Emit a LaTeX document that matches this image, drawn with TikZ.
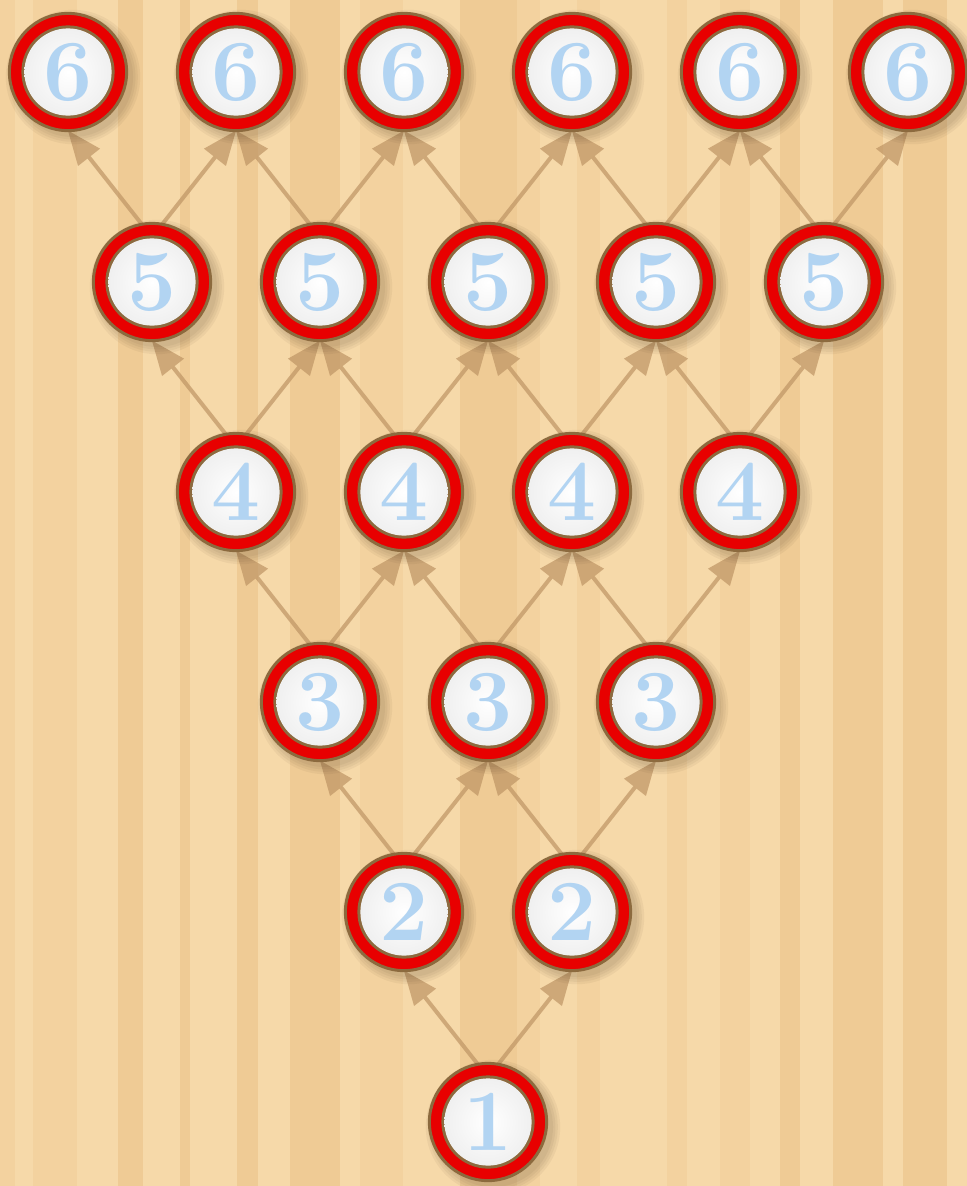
\documentclass[tikz,border=0pt]{standalone}
\usepackage{tikz}
\usetikzlibrary{arrows.meta}

\definecolor{woodbase}{RGB}{246,217,169}
\definecolor{woodmid}{RGB}{243,210,159}
\definecolor{wooddark}{RGB}{239,203,149}
\definecolor{ringred}{RGB}{232,0,0}
\definecolor{rimbrown}{RGB}{140,106,62}
\definecolor{digitblue}{RGB}{178,212,242}
\definecolor{arrowtan}{RGB}{190,148,100}

\pgfdeclarelayer{wood}
\pgfdeclarelayer{links}
\pgfsetlayers{wood,links,main}

\tikzset{
  ball/.style={circle, minimum size=2.93cm, inner sep=0pt, outer sep=0pt,
    fill=ringred, draw=rimbrown, line width=0.075cm,
    path picture={
      \fill[rimbrown] (path picture bounding box.center) circle (1.165cm);
      \shade[inner color=white, outer color=black!6] (path picture bounding box.center) circle (1.09cm);
    },
    text=digitblue, font=\fontsize{62}{62}\selectfont\bfseries},
  uparrow/.style={draw=arrowtan, line width=0.1cm, opacity=0.7,
    -{Triangle[length=0.85cm, width=0.7cm, line width=0pt]}},
  halo/.style={fill=black!70!brown, opacity=0.05}
}

\begin{document}
\begin{tikzpicture}[x=0.025cm, y=-0.025cm]
  \useasboundingbox (0,0) rectangle (967,1186);
  \begin{pgfonlayer}{wood}
    \fill[woodbase] (0,0) rectangle (967,1186);
    \foreach \a/\b/\s in {0/15/woodmid, 33/77/woodmid, 118/143/wooddark, 180/190/wooddark,
        237/258/wooddark, 290/340/wooddark, 360/403/woodmid, 460/517/wooddark,
        517/540/woodmid, 577/600/woodmid, 667/687/woodmid, 720/750/woodmid,
        780/800/wooddark, 833/883/wooddark, 903/947/wooddark}
      \fill[\s] (\a,0) rectangle (\b,1186);
  \end{pgfonlayer}

  \foreach \r in {1,...,6}
    \foreach \i in {1,...,\r}
      \node[ball] (p\r\i) at ({488+(\i-(\r+1)/2)*168},{1122-(\r-1)*210}) {\r};

  \begin{pgfonlayer}{links}
    \foreach \r [evaluate=\r as \u using int(\r+1)] in {1,...,5} {
      \foreach \i [evaluate=\i as \j using int(\i+1)] in {1,...,\r} {
        \draw[uparrow] (p\r\i.100) -- (p\u\i.south);
        \draw[uparrow] (p\r\i.80) -- (p\u\j.south);
      }
    }
    % soft shadows under the balls
    \foreach \r in {1,...,6}
      \foreach \i in {1,...,\r}
        \foreach \k in {1.50,1.56,1.62,1.68}
          \fill[halo] ([shift={(5,5)}]p\r\i.center) circle (\k cm);
  \end{pgfonlayer}
\end{tikzpicture}
\end{document}
